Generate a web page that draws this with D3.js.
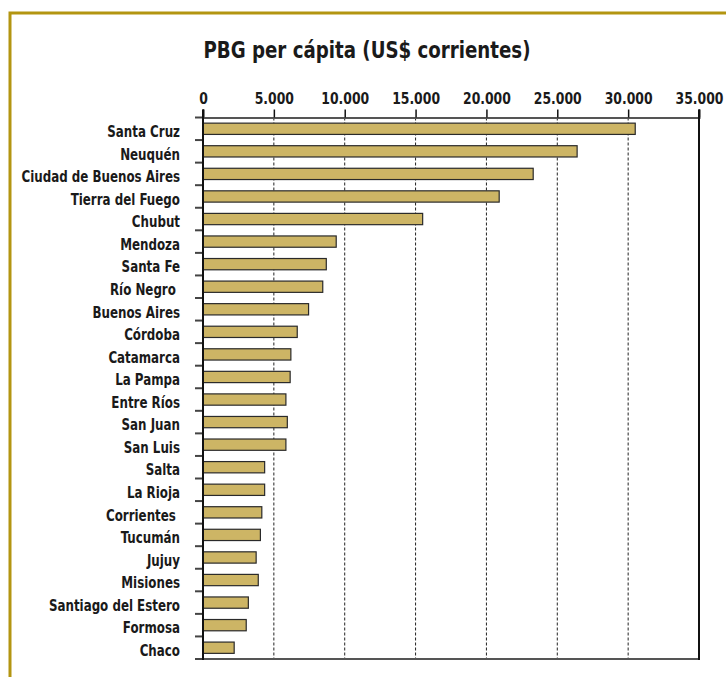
<!DOCTYPE html>
<html>
<head>
<meta charset="utf-8">
<script src="https://cdn.jsdelivr.net/npm/d3@7/dist/d3.min.js"></script>
<style>
  html, body { margin: 0; padding: 0; background: #fff; }
  svg { display: block; }
  text { font-family: "Liberation Sans Narrow", "DejaVu Sans Condensed", "Roboto Condensed", "Roboto", sans-serif; font-stretch: condensed; font-weight: bold; fill: #1a1a1a; }
</style>
</head>
<body>
<svg id="chart" width="726" height="677"></svg>
<script>
const title = "PBG per cápita (US$ corrientes)";
const categories = ["Santa Cruz", "Neuquén", "Ciudad de Buenos Aires", "Tierra del Fuego", "Chubut",
  "Mendoza", "Santa Fe", "Río Negro ", "Buenos Aires", "Córdoba", "Catamarca", "La Pampa",
  "Entre Ríos", "San Juan", "San Luis", "Salta", "La Rioja", "Corrientes ", "Tucumán", "Jujuy",
  "Misiones", "Santiago del Estero", "Formosa", "Chaco"];
const values = [30500, 26400, 23300, 20900, 15500, 9400, 8700, 8450, 7450, 6650, 6200, 6150,
  5850, 5950, 5850, 4350, 4350, 4150, 4050, 3750, 3900, 3200, 3050, 2200];
const xTicks = [0, 5000, 10000, 15000, 20000, 25000, 30000, 35000];

(function () {
const svg = d3.select("#chart");
const W = 726, H = 677;
const pLeft = 203, pRight = 699, pTop = 117.5, pBottom = 659;

const locale = d3.formatLocale({decimal: ",", thousands: ".", grouping: [3], currency: ["$", ""]});
const fmt = locale.format(",");

// frame
svg.append("path")
  .attr("d", `M${10},${H + 5} L${10},${13} L${W + 5},${13}`)
  .attr("fill", "none").attr("stroke", "#b39511").attr("stroke-width", 3);

const x = d3.scaleLinear().domain([0, 35000]).range([pLeft, pRight]);
const y = d3.scaleBand().domain(categories).range([pTop, pBottom]).paddingInner(0.5).paddingOuter(0.25);
const yb = d3.scaleBand().domain(categories).range([pTop, pBottom]);

// title (horizontally compressed to mimic a condensed face)
svg.append("text").attr("transform", "translate(367,58) scale(0.88,1)").attr("text-anchor", "middle")
  .style("font-size", "23px").text(title);

// grid lines (dashed)
svg.append("g").selectAll("line").data(xTicks.filter(d => d > 0 && d < 35000)).join("line")
  .attr("x1", d => x(d)).attr("x2", d => x(d))
  .attr("y1", pTop).attr("y2", pBottom)
  .attr("stroke", "#222").attr("stroke-width", 1).attr("stroke-dasharray", "3,2");

// top axis
const xAxis = d3.axisTop(x).tickValues(xTicks).tickFormat(fmt).tickSize(8).tickPadding(6);
const gx = svg.append("g").attr("transform", `translate(0,${pTop})`).call(xAxis);
gx.attr("font-family", null).attr("font-size", null);
gx.select(".domain").attr("stroke", "#555").attr("stroke-width", 2);
gx.selectAll(".tick line").attr("stroke", "#111").attr("stroke-width", 1.5);
gx.selectAll(".tick text").style("font-size", "15px").attr("fill", "#1a1a1a")
  .attr("transform", "scale(0.92,1)");

// bottom line
svg.append("line").attr("x1", pLeft - 8).attr("x2", pRight).attr("y1", pBottom).attr("y2", pBottom)
  .attr("stroke", "#555").attr("stroke-width", 2);
// right border
svg.append("line").attr("x1", pRight).attr("x2", pRight).attr("y1", pTop - 8).attr("y2", pBottom + 1)
  .attr("stroke", "#111").attr("stroke-width", 2);

// left ticks at band boundaries
const bounds = categories.map(c => yb(c)).concat([pBottom]);
svg.append("g").selectAll("line").data(bounds).join("line")
  .attr("x1", pLeft - 8).attr("x2", pLeft).attr("y1", d => d).attr("y2", d => d)
  .attr("stroke", "#444").attr("stroke-width", 2);

// bars
svg.append("g").selectAll("rect").data(values).join("rect")
  .attr("x", x(0))
  .attr("y", (d, i) => y(categories[i]))
  .attr("width", d => x(d) - x(0))
  .attr("height", y.bandwidth())
  .attr("fill", "#cdb565").attr("stroke", "#2a2a2a").attr("stroke-width", 1.2);

// left axis line
svg.append("line").attr("x1", pLeft).attr("x2", pLeft).attr("y1", pTop - 8).attr("y2", pBottom + 1)
  .attr("stroke", "#111").attr("stroke-width", 2);

// category labels
svg.append("g").selectAll("text").data(categories).join("text")
  .attr("transform", d => `translate(180,${yb(d) + yb.bandwidth() / 2 + 3}) scale(0.88,1)`)
  .attr("dy", "0.35em").attr("text-anchor", "end")
  .style("font-size", "15px").style("white-space", "pre")
  .text(d => d);
})();
</script>
</body>
</html>
